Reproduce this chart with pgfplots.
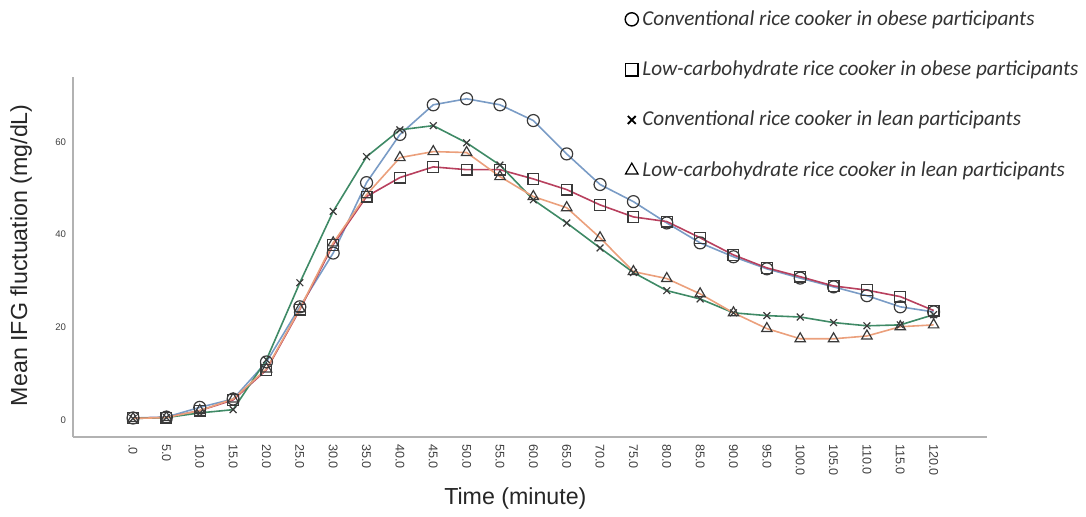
\documentclass[border=0pt]{standalone}
\usepackage{pgfplots}
\pgfplotsset{compat=1.18}
\usepackage{fontspec}
\setmainfont{Carlito}
\newfontfamily\ticksfont{Liberation Sans}
\definecolor{cblue}{HTML}{7A9CC6}
\definecolor{cred}{HTML}{B8405E}
\definecolor{cgreen}{HTML}{3F8A66}
\definecolor{corange}{HTML}{EBA07C}
\definecolor{mk}{HTML}{3A3A3A}
\begin{document}
\begin{tikzpicture}
% 1px of the reference = 0.5pt, axis lower left corner at pixel (73,437)
\useasboundingbox (-36.5pt,-39.5pt) rectangle (506.5pt,218.5pt);
\begin{axis}[
  at={(0,0)}, anchor=south west,
  scale only axis,
  width=457pt, height=180pt,
  xmin=-9, xmax=128,
  ymin=-3.7, ymax=74,
  axis x line*=bottom,
  axis y line*=left,
  axis line style={gray!60, line width=0.6pt},
  xtick={0,5,...,120},
  xticklabels={.0,5.0,10.0,15.0,20.0,25.0,30.0,35.0,40.0,45.0,50.0,55.0,60.0,65.0,70.0,75.0,80.0,85.0,90.0,95.0,100.0,105.0,110.0,115.0,120.0},
  xticklabel style={rotate=-90, anchor=west, font=\ticksfont\fontsize{6.3}{7}\selectfont, text=black!75},
  ytick={0,20,40,60},
  yticklabel style={font=\ticksfont\fontsize{4.8}{6}\selectfont, text=black!75},
  major tick length=0pt,
  /pgf/number format/assume math mode=true,
  xlabel={Time (minute)},
  xlabel style={font=\ticksfont\fontsize{11.6}{13}\selectfont, text=black!85, at={(rel axis cs:0.484,0)}, anchor=north, yshift=-22pt},
  ylabel={Mean IFG fluctuation (mg/dL)},
  ylabel style={font=\ticksfont\fontsize{11.6}{13}\selectfont, text=black!85, at={(rel axis cs:0,0.505)}, anchor=south, yshift=17pt},
  clip=false,
  legend style={draw=none, fill=none, at={(rel axis cs:0.6037,1.197)}, anchor=north west,
    font=\itshape\fontsize{10.6}{12}\selectfont, text=black!80,
    row sep=12.3pt, inner sep=0pt, cells={anchor=west}},
  legend cell align=left,
  legend image post style={xshift=-3pt},
  every axis plot/.append style={line width=0.8pt, mark options={solid, draw=mk, fill=white, fill opacity=0.2, line width=0.6pt}},
]
% conventional rice cooker, obese
\addplot[cblue, mark=o, mark size=3pt, forget plot] coordinates {
(0,0.4) (5,0.6) (10,2.7) (15,4.5) (20,12.5) (25,24.4) (30,36.0) (35,51.2) (40,61.6)
(45,68.0) (50,69.3) (55,68.0) (60,64.6) (65,57.4) (70,50.8) (75,47.1) (80,42.5)
(85,38.2) (90,35.2) (95,32.6) (100,30.6) (105,28.7) (110,26.8) (115,24.4) (120,23.3)};
% low-carbohydrate rice cooker, obese
\addplot[cred, mark=square, mark size=2.7pt, forget plot] coordinates {
(0,0.4) (5,0.5) (10,2.0) (15,4.3) (20,10.8) (25,23.8) (30,37.8) (35,48.2) (40,52.3)
(45,54.6) (50,54.0) (55,54.0) (60,52.0) (65,49.7) (70,46.4) (75,43.8) (80,42.8)
(85,39.3) (90,35.6) (95,32.8) (100,30.9) (105,28.9) (110,28.0) (115,26.6) (120,23.6)};
% conventional rice cooker, lean
\addplot[cgreen, mark=x, mark size=2.4pt, forget plot] coordinates {
(0,0.3) (5,0.5) (10,1.5) (15,2.2) (20,13.0) (25,29.6) (30,45.0) (35,56.8) (40,62.6)
(45,63.5) (50,59.8) (55,55.0) (60,47.5) (65,42.5) (70,37.1) (75,31.8) (80,27.9)
(85,26.1) (90,23.1) (95,22.5) (100,22.2) (105,21.0) (110,20.3) (115,20.5) (120,22.7)};
% low-carbohydrate rice cooker, lean
\addplot[corange, mark=triangle, mark size=3pt, forget plot] coordinates {
(0,0.3) (5,0.5) (10,2.0) (15,4.5) (20,11.0) (25,24.0) (30,38.2) (35,48.6) (40,56.6)
(45,57.9) (50,57.7) (55,52.5) (60,48.2) (65,45.8) (70,39.3) (75,32.0) (80,30.5)
(85,27.2) (90,23.1) (95,19.7) (100,17.5) (105,17.5) (110,18.1) (115,20.1) (120,20.5)};
\addlegendimage{only marks, mark=o, mark size=3.3pt, mark options={draw=black, line width=0.7pt}}
\addlegendentry{Conventional rice cooker in obese participants}
\addlegendimage{only marks, mark=square, mark size=3.1pt, mark options={draw=black, line width=0.7pt}}
\addlegendentry{Low-carbohydrate rice cooker in obese participants}
\addlegendimage{only marks, mark=x, mark size=2.8pt, mark options={draw=black, line width=0.9pt}}
\addlegendentry{Conventional rice cooker in lean participants}
\addlegendimage{only marks, mark=triangle, mark size=3.6pt, mark options={draw=black, line width=0.6pt}}
\addlegendentry{Low-carbohydrate rice cooker in lean participants}
\end{axis}
\end{tikzpicture}
\end{document}
